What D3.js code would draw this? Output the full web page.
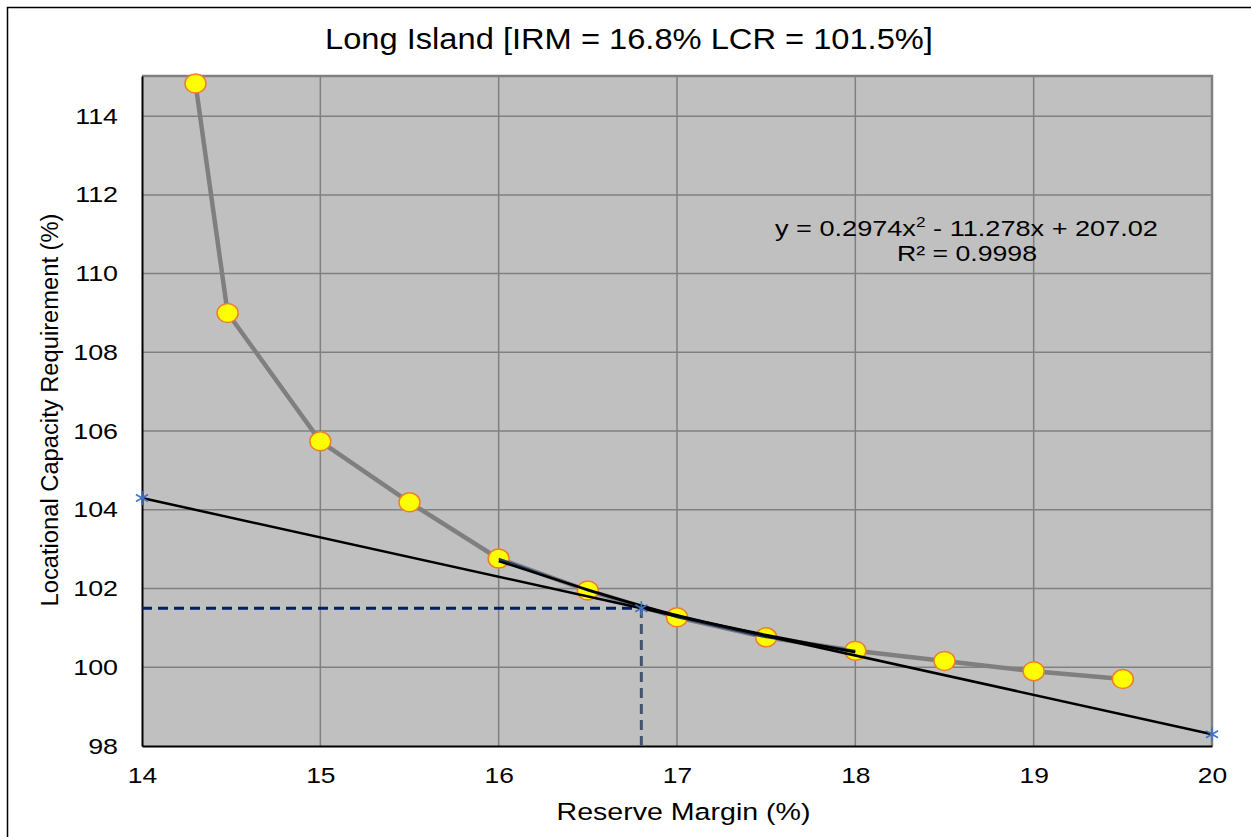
<!DOCTYPE html>
<html>
<head>
<meta charset="utf-8">
<script src="https://cdn.jsdelivr.net/npm/d3@7"></script>
<style>
  body { margin: 0; background: #fff; overflow: hidden; }
  text { font-family: "Liberation Sans", Arial, sans-serif; fill: #000; }
</style>
</head>
<body>
<div id="chart"></div>
<script>
const width = 1251, height = 837;
const margin = {top: 76, right: 39, bottom: 91, left: 142};
const innerWidth = width - margin.left - margin.right;
const innerHeight = height - margin.top - margin.bottom;

// LCR curve points
const reserveMargin = [14.3, 14.48, 15, 15.5, 16, 16.5, 17, 17.5, 18, 18.5, 19, 19.5];
const lcrValues = [114.83, 109.0, 105.74, 104.19, 102.76, 101.95, 101.27, 100.76, 100.42, 100.16, 99.9, 99.7];

// subset used for the fit (16 - 18) and the fitted trendline
const fitX = [16, 16.5, 17, 17.5, 18];
const fitY = [102.7, 101.97, 101.32, 100.82, 100.38];

// tangent line through the chosen point
const tangentX = [14, 16.8, 20];
const tangentY = [104.3, 101.5, 98.3];

const irm = 16.8, lcr = 101.5;

const xTicks = [14, 15, 16, 17, 18, 19, 20];
const yTicks = [98, 100, 102, 104, 106, 108, 110, 112, 114];

// widen a text horizontally around its anchor point
const stretch = (sel, k) => {
  sel.each(function () {
    const t = d3.select(this);
    const ax = +t.attr("x") || 0, ay = +t.attr("y") || 0;
    const prev = t.attr("transform") || "";
    t.attr("transform", `${prev} translate(${ax},${ay}) scale(${k},1) translate(${-ax},${-ay})`);
  });
};
const fitWidth = (sel, target) => stretch(sel, target / sel.node().getBBox().width);

const svg = d3.select("#chart")
  .append("svg")
    .attr("width", width)
    .attr("height", height)
    .style("display", "block");

// outer frame (only left and top edges are in view)
svg.append("path")
  .attr("d", `M7.5,${height}V7.5H${width}`)
  .attr("fill", "none")
  .attr("stroke", "#000")
  .attr("stroke-width", 1.5);

const x = d3.scaleLinear().domain([14, 20]).range([0, innerWidth]);
const y = d3.scaleLinear().domain([98, 115.02]).range([innerHeight, 0]);

const g = svg.append("g")
  .attr("transform", `translate(${margin.left}, ${margin.top})`);

g.append("rect")
  .attr("width", innerWidth)
  .attr("height", innerHeight)
  .attr("fill", "#c0c0c0");

// grid
g.append("g")
  .selectAll("line")
  .data(xTicks.slice(1, -1))
  .join("line")
    .attr("x1", d => x(d)).attr("x2", d => x(d))
    .attr("y1", 0).attr("y2", innerHeight)
    .attr("stroke", "#808080")
    .attr("stroke-width", 1.5);

g.append("g")
  .selectAll("line")
  .data(yTicks.slice(1))
  .join("line")
    .attr("x1", 0).attr("x2", innerWidth)
    .attr("y1", d => y(d)).attr("y2", d => y(d))
    .attr("stroke", "#808080")
    .attr("stroke-width", 1.5);

// top / right frame of plot
g.append("path")
  .attr("d", `M0,0H${innerWidth}V${innerHeight}`)
  .attr("fill", "none")
  .attr("stroke", "#808080")
  .attr("stroke-width", 2.5);

// axes
const xAxis = g.append("g")
  .attr("transform", `translate(0, ${innerHeight})`)
  .call(d3.axisBottom(x).tickValues(xTicks).tickFormat(d3.format("d")).tickSize(0).tickPadding(21));
xAxis.select(".domain").attr("stroke", "#000").attr("stroke-width", 2);
xAxis.selectAll("text").style("font-size", "22px").call(stretch, 1.2);

const yAxis = g.append("g")
  .call(d3.axisLeft(y).tickValues(yTicks).tickSize(0).tickPadding(24));
yAxis.select(".domain").attr("stroke", "#000").attr("stroke-width", 2);
yAxis.selectAll("text").style("font-size", "22px").call(stretch, 1.22);

// LCR curve
const line = d3.line().x(d => x(d[0])).y(d => y(d[1]));
const curvePts = d3.zip(reserveMargin, lcrValues);

g.append("path")
  .datum(curvePts)
  .attr("d", line)
  .attr("fill", "none")
  .attr("stroke", "#7f7f7f")
  .attr("stroke-width", 4.5);

g.append("g")
  .selectAll("ellipse")
  .data(curvePts)
  .join("ellipse")
    .attr("cx", d => x(d[0]))
    .attr("cy", d => y(d[1]))
    .attr("rx", 10.5)
    .attr("ry", 9.5)
    .attr("fill", "#ffff00")
    .attr("stroke", "#ed7d31")
    .attr("stroke-width", 1.5);

// dashed guides
g.append("line")
  .attr("x1", x(14)).attr("x2", x(irm))
  .attr("y1", y(lcr)).attr("y2", y(lcr))
  .attr("stroke", "#002060")
  .attr("stroke-width", 3)
  .attr("stroke-dasharray", "10,6");

g.append("line")
  .attr("x1", x(irm)).attr("x2", x(irm))
  .attr("y1", y(98)).attr("y2", y(lcr))
  .attr("stroke", "#44546a")
  .attr("stroke-width", 3)
  .attr("stroke-dasharray", "10,6");

// fit subset (navy) and polynomial trendline
const fitData = fitX.map(v => [v, lcrValues[reserveMargin.indexOf(v)]]);
g.append("path")
  .datum(fitData)
  .attr("d", line)
  .attr("fill", "none")
  .attr("stroke", "#1f3864")
  .attr("stroke-width", 2);

g.append("path")
  .datum(d3.zip(fitX, fitY))
  .attr("d", d3.line().x(d => x(d[0])).y(d => y(d[1])).curve(d3.curveNatural))
  .attr("fill", "none")
  .attr("stroke", "#000")
  .attr("stroke-width", 2.5);

// tangent line
const tangentPts = d3.zip(tangentX, tangentY);
g.append("path")
  .datum(tangentPts)
  .attr("d", line)
  .attr("fill", "none")
  .attr("stroke", "#000")
  .attr("stroke-width", 2.5);

const star = g.append("g")
  .selectAll("g")
  .data(tangentPts)
  .join("g")
    .attr("transform", d => `translate(${x(d[0])}, ${y(d[1])})`);
[0, 60, 120].forEach(a => {
  star.append("line")
    .attr("x1", -7).attr("x2", 7)
    .attr("y1", 0).attr("y2", 0)
    .attr("transform", `rotate(${a + 90})`)
    .attr("stroke", "#4472c4")
    .attr("stroke-width", 1.6);
});

// trendline label
const eq = svg.append("text")
  .attr("x", 775)
  .attr("y", 236.5)
  .style("font-size", "22px");
eq.append("tspan").text("y = 0.2974x");
eq.append("tspan").text("2").attr("dy", -9).style("font-size", "14px");
eq.append("tspan").text(" - 11.278x + 207.02").attr("dy", 9);
eq.call(fitWidth, 383);

svg.append("text")
  .attr("x", 967)
  .attr("y", 261.5)
  .attr("text-anchor", "middle")
  .style("font-size", "22px")
  .text("R² = 0.9998")
  .call(fitWidth, 140);

// titles
svg.append("text")
  .attr("x", 629).attr("y", 49.5)
  .attr("text-anchor", "middle")
  .style("font-size", "29.5px")
  .text("Long Island [IRM = 16.8% LCR = 101.5%]")
  .call(fitWidth, 608);

svg.append("text")
  .attr("x", 683.5)
  .attr("y", 820)
  .attr("text-anchor", "middle")
  .style("font-size", "24.5px")
  .text("Reserve Margin (%)")
  .call(fitWidth, 254);

svg.append("text")
  .attr("transform", `translate(58, ${margin.top + innerHeight / 2 - 1}) rotate(-90)`)
  .attr("text-anchor", "middle")
  .style("font-size", "24px")
  .text("Locational Capacity Requirement (%)")
  .call(fitWidth, 393);
</script>
</body>
</html>
